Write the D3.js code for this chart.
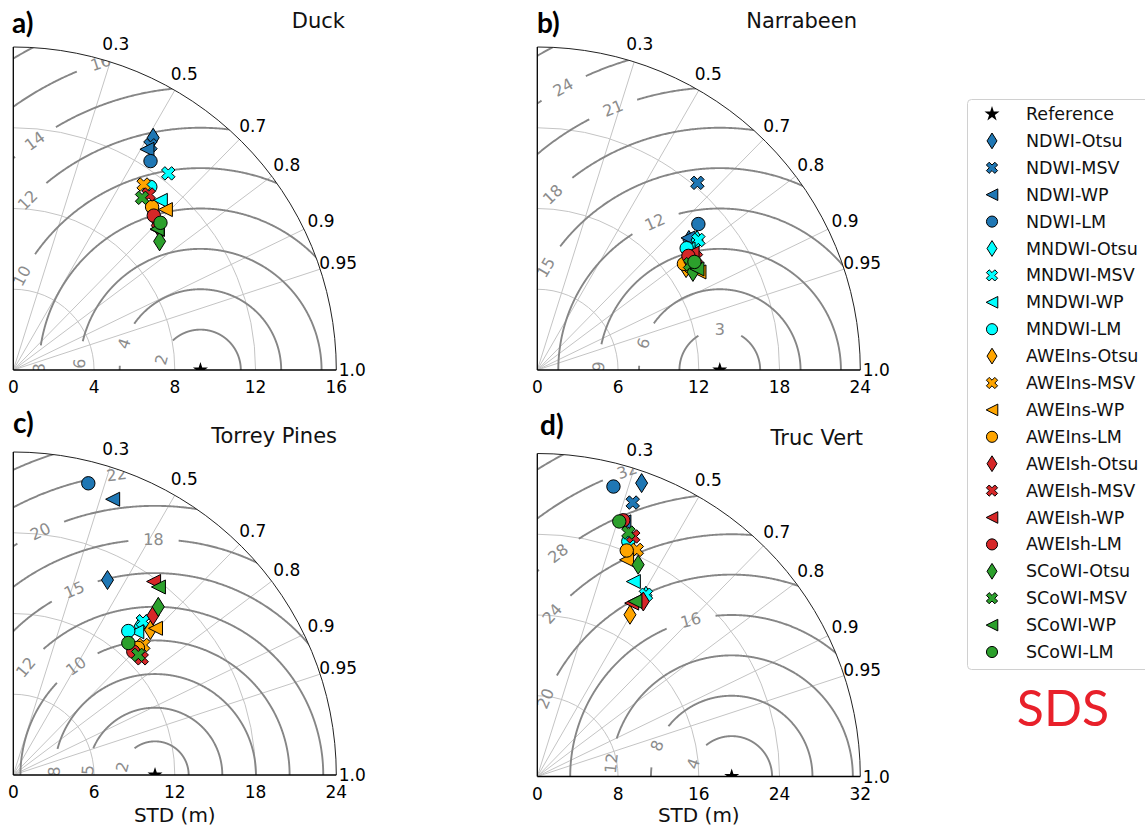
<!DOCTYPE html>
<html>
<head>
<meta charset="utf-8">
<script src="https://cdn.jsdelivr.net/npm/d3@7"></script>
<style>
  body { margin: 0; background: #fff; }
  svg { display: block; font-family: "DejaVu Sans", sans-serif; }
</style>
</head>
<body>
<svg id="chart" width="1145" height="832"></svg>
<script>
// ---- data ----
const indices = ["NDWI", "MNDWI", "AWEIns", "AWEIsh", "SCoWI"];
const methods = ["Otsu", "MSV", "WP", "LM"];
const indexColors = ["#1f77b4", "#00ffff", "#ffa500", "#d62728", "#2ca02c"];

const corrTicks = [0.3, 0.5, 0.7, 0.8, 0.9, 0.95, 1.0];
const corrTickLabels = ["0.3", "0.5", "0.7", "0.8", "0.9", "0.95", "1.0"];

const sites = ["Duck", "Narrabeen", "Torrey Pines", "Truc Vert"];
const panelLetters = ["a)", "b)", "c)", "d)"];
const stdMax = [16, 24, 24, 32];
const stdTicks = [[0, 4, 8, 12, 16], [0, 6, 12, 18, 24], [0, 6, 12, 18, 24], [0, 8, 16, 24, 32]];
const refStd = [9.27, 13.56, 10.53, 19.26];

// centred RMS contours: levels, printed labels, label position on the arc (deg around the reference)
const rmsLevels = [
  [2, 4, 6, 8, 10, 12, 14, 16, 18],
  [3, 6, 9, 12, 15, 18, 21, 24, 27],
  [2.5, 5, 7.5, 10, 12.5, 15, 17.5, 20, 22.5, 25],
  [4, 8, 12, 16, 20, 24, 28, 32, 36]
];
const rmsLabels = [
  ["2", "4", "6", "8", "10", "12", "14", "16", ""],
  ["3", "6", "9", "12", "15", "18", "21", "24", ""],
  ["2", "5", "8", "10", "12", "15", "18", "20", "22", ""],
  ["4", "8", "12", "16", "20", "24", "28", "32", ""]
];
const rmsLabelAngle = [
  [165, 161, 177, 179.4, 152.2, 135.5, 125.9, 108, null],
  [90, 160.8, 178.4, 113.7, 149.5, 133.6, 112.2, 119, null],
  [166, 175.8, 178, 126, 140.2, 113.6, 90.4, 115.2, 97.3, null],
  [161.4, 157.5, 173.7, 104.7, 157.3, 137.8, 127.9, 108.9, null]
];

// order: NDWI-Otsu, NDWI-MSV, NDWI-WP, NDWI-LM, MNDWI-Otsu ... SCoWI-LM
const duckStd  = [13.43, 13.04, 12.78, 12.38, 10.48, 12.40, 11.12, 11.33, 10.28, 11.23, 10.95, 10.61, 10.11, 10.98, 9.97, 10.34, 9.65, 10.65, 9.98, 10.31];
const duckCorr = [0.516, 0.521, 0.518, 0.549, 0.662, 0.619, 0.655, 0.599, 0.690, 0.575, 0.688, 0.648, 0.706, 0.611, 0.716, 0.673, 0.751, 0.599, 0.714, 0.707];

const narrStd  = [14.84, 18.30, 14.89, 16.15, 15.30, 15.38, 14.36, 14.32, 13.40, 13.73, 14.05, 13.45, 13.90, 14.43, 14.41, 14.07, 13.67, 13.81, 14.04, 14.17];
const narrCorr = [0.759, 0.650, 0.752, 0.741, 0.776, 0.778, 0.780, 0.775, 0.825, 0.826, 0.855, 0.810, 0.817, 0.817, 0.798, 0.798, 0.846, 0.822, 0.845, 0.824];

const torrStd  = [16.09, 14.94, 21.78, 22.38, 14.53, 14.94, 14.05, 13.69, 14.83, 13.66, 15.18, 13.23, 15.76, 12.89, 17.76, 12.79, 16.50, 12.88, 17.65, 13.01];
const torrCorr = [0.435, 0.645, 0.339, 0.249, 0.648, 0.645, 0.653, 0.624, 0.687, 0.707, 0.696, 0.700, 0.659, 0.740, 0.587, 0.697, 0.653, 0.721, 0.611, 0.657];

const tvStd  = [30.85, 28.74, 26.65, 29.70, 20.90, 20.98, 21.53, 24.97, 18.47, 24.52, 23.22, 24.08, 20.27, 25.61, 19.56, 26.77, 23.24, 25.80, 19.86, 26.54];
const tvCorr = [0.335, 0.329, 0.322, 0.254, 0.515, 0.513, 0.442, 0.361, 0.497, 0.402, 0.381, 0.368, 0.518, 0.371, 0.478, 0.318, 0.430, 0.350, 0.487, 0.306];

const siteStd = [duckStd, narrStd, torrStd, tvStd];
const siteCorr = [duckCorr, narrCorr, torrCorr, tvCorr];

// ---- layout ----
const R = 323;
const origins = [[13.3, 370], [537.3, 370], [13.3, 775], [537.3, 776.5]];
const titlePos = [[345, 28], [857, 28], [337, 443], [863, 445]];
const letterPos = [[12, 33], [537, 33], [13, 433], [540, 435]];

const svg = d3.select("#chart");

// marker shapes, centred on 0,0
function markerPath(m, k = 1) {
  if (m === 0) { // thin diamond
    return `M0,${-9.5 * k}L${6 * k},0L0,${9.5 * k}L${-6 * k},0Z`;
  }
  if (m === 1) { // filled X
    const pts = [[0.25, 0], [0.5, 0.25], [0.75, 0], [1, 0.25], [0.75, 0.5], [1, 0.75], [0.75, 1], [0.5, 0.75], [0.25, 1], [0, 0.75], [0.25, 0.5], [0, 0.25]];
    const s = 13.5 * k;
    return "M" + pts.map(p => [(p[0] - 0.5) * s, (p[1] - 0.5) * s].join(",")).join("L") + "Z";
  }
  if (m === 2) { // triangle left
    return `M${-7 * k},0L${7 * k},${-7 * k}L${7 * k},${7 * k}Z`;
  }
  return d3.symbol(d3.symbolCircle, Math.PI * 6.7 * 6.7 * k * k)();
}

function drawPanel(i) {
  const [ox, oy] = origins[i];
  const r = d3.scaleLinear().domain([0, stdMax[i]]).range([0, R]);
  const g = svg.append("g").attr("transform", `translate(${ox},${oy})`);

  g.append("clipPath").attr("id", "clip" + i)
    .append("path").attr("d", `M0,0L${R},0A${R},${R} 0 0 0 0,${-R}Z`);

  const grid = g.append("g").attr("clip-path", `url(#clip${i})`);

  // std circles
  stdTicks[i].slice(1, -1).forEach(t => {
    grid.append("path")
      .attr("d", `M${r(t)},0A${r(t)},${r(t)} 0 0 0 0,${-r(t)}`)
      .attr("fill", "none").attr("stroke", "#c4c4c4").attr("stroke-width", 1);
  });

  // correlation rays
  corrTicks.slice(0, -1).forEach(c => {
    const s = Math.sqrt(1 - c * c);
    grid.append("line")
      .attr("x1", 0).attr("y1", 0)
      .attr("x2", R * c).attr("y2", -R * s)
      .attr("stroke", "#c4c4c4").attr("stroke-width", 1);
  });

  // RMS contours centred on the reference
  const cx = r(refStd[i]);
  const line = d3.line();
  rmsLevels[i].forEach((lev, j) => {
    const rr = r(lev);
    const la = rmsLabelAngle[i][j];
    const txt = rmsLabels[i][j];
    const halfGap = la === null ? 0 : (20 + 2.5 * txt.length) / rr;
    const laRad = la === null ? 0 : la * Math.PI / 180;
    let seg = [];
    const segs = [];
    for (let a = 0; a <= Math.PI + 1e-9; a += Math.PI / 720) {
      if (la !== null && Math.abs(a - laRad) < halfGap) {
        if (seg.length) segs.push(seg);
        seg = [];
        continue;
      }
      seg.push([cx + rr * Math.cos(a), -rr * Math.sin(a)]);
    }
    if (seg.length) segs.push(seg);
    segs.forEach(s => {
      grid.append("path").attr("d", line(s))
        .attr("fill", "none").attr("stroke", "#868686").attr("stroke-width", 1.9);
    });
    if (la !== null) {
      const lx = cx + rr * Math.cos(laRad);
      const ly = -rr * Math.sin(laRad);
      let rot = Math.atan2(-Math.cos(laRad), -Math.sin(laRad)) * 180 / Math.PI;
      if (rot > 90) rot -= 180;
      if (rot < -90) rot += 180;
      grid.append("text")
        .attr("transform", `translate(${lx},${ly}) rotate(${rot})`)
        .attr("text-anchor", "middle").attr("dominant-baseline", "central")
        .attr("font-size", 16).attr("fill", "#8c8c8c")
        .text(txt);
    }
  });

  // reference star (half clipped by the axis)
  grid.append("path")
    .attr("transform", `translate(${cx},0)`)
    .attr("d", d3.symbol(d3.symbolStar, 70)())
    .attr("fill", "#000");

  // frame
  g.append("path")
    .attr("d", `M${R},0A${R},${R} 0 0 0 0,${-R}`)
    .attr("fill", "none").attr("stroke", "#222").attr("stroke-width", 1);
  g.append("line").attr("x1", 0).attr("y1", 0).attr("x2", 0).attr("y2", -R)
    .attr("stroke", "#000").attr("stroke-width", 1.3);
  g.append("line").attr("x1", 0).attr("y1", 0).attr("x2", R).attr("y2", 0)
    .attr("stroke", "#000").attr("stroke-width", 1.3);

  // std tick labels
  stdTicks[i].forEach(t => {
    g.append("text").attr("x", r(t)).attr("y", 23)
      .attr("text-anchor", "middle").attr("font-size", 17).attr("fill", "#000")
      .text(t);
  });

  // correlation labels
  corrTicks.forEach((c, k) => {
    const s = Math.sqrt(1 - c * c);
    const rl = k === corrTicks.length - 1 ? R + 16 : R + 19;
    g.append("text").attr("x", rl * c).attr("y", -rl * s)
      .attr("text-anchor", "middle").attr("dominant-baseline", "central")
      .attr("font-size", 17).attr("fill", "#000")
      .text(corrTickLabels[k]);
  });

  // method points
  siteStd[i].forEach((sd, k) => {
    const c = siteCorr[i][k];
    const x = r(sd) * c;
    const y = -r(sd) * Math.sqrt(1 - c * c);
    g.append("path")
      .attr("transform", `translate(${x},${y})`)
      .attr("d", markerPath(k % 4))
      .attr("fill", indexColors[Math.floor(k / 4)])
      .attr("stroke", "#000").attr("stroke-width", 1);
  });

  // title + panel letter
  svg.append("text").attr("x", titlePos[i][0]).attr("y", titlePos[i][1])
    .attr("text-anchor", "end").attr("font-size", 21).attr("fill", "#111")
    .text(sites[i]);
  svg.append("text").attr("x", letterPos[i][0]).attr("y", letterPos[i][1])
    .attr("font-family", "Lato, 'Open Sans', sans-serif").attr("font-weight", "bold")
    .attr("font-size", 28).attr("fill", "#000")
    .text(panelLetters[i]);

  if (i >= 2) {
    svg.append("text").attr("x", ox + R / 2).attr("y", 822)
      .attr("text-anchor", "middle").attr("font-size", 20).attr("fill", "#111")
      .text("STD (m)");
  }
}

[0, 1, 2, 3].forEach(drawPanel);

// ---- legend ----
const leg = svg.append("g");
leg.append("rect").attr("x", 967.5).attr("y", 99.5).attr("width", 200).attr("height", 570)
  .attr("rx", 4).attr("fill", "#fff").attr("stroke", "#d0d0d0").attr("stroke-width", 1);

const legendItems = [{ label: "Reference", star: true }];
indices.forEach((ix, a) => methods.forEach((m, b) => {
  legendItems.push({ label: ix + "-" + m, color: indexColors[a], m: b });
}));
const rowY = d3.scaleLinear().domain([0, legendItems.length - 1]).range([114, 652]);
legendItems.forEach((d, k) => {
  const y = rowY(k);
  if (d.star) {
    leg.append("path").attr("transform", `translate(992,${y})`)
      .attr("d", d3.symbol(d3.symbolStar, 70)()).attr("fill", "#000");
  } else {
    leg.append("path").attr("transform", `translate(992,${y})`)
      .attr("d", markerPath(d.m, 0.83))
      .attr("fill", d.color).attr("stroke", "#000").attr("stroke-width", 1);
  }
  leg.append("text").attr("x", 1026).attr("y", y)
    .attr("dominant-baseline", "central").attr("font-size", 17.5).attr("fill", "#111")
    .text(d.label);
});

svg.append("text").attr("x", 1063).attr("y", 726)
  .attr("text-anchor", "middle").attr("font-family", "Lato, 'Open Sans', sans-serif")
  .attr("font-size", 50).attr("fill", "#e8202a")
  .text("SDS");
</script>
</body>
</html>
